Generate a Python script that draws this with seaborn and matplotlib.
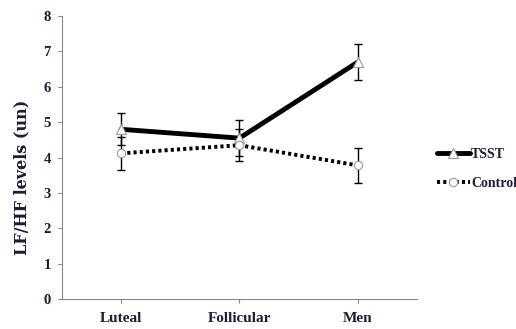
import matplotlib
matplotlib.use("Agg")
import matplotlib.pyplot as plt
import seaborn as sns
import pandas as pd

phases = ["Luteal", "Follicular", "Men"]
tsst_mean = [4.8, 4.55, 6.7]
tsst_err = [0.45, 0.5, 0.5]
control_mean = [4.12, 4.35, 3.78]
control_err = [0.47, 0.45, 0.5]
y_ticks = [0, 1, 2, 3, 4, 5, 6, 7, 8]

sns.set_theme(style="white")
plt.rcParams["font.family"] = ["Liberation Serif", "DejaVu Serif"]
text_color = "#1c1c3a"

df = pd.DataFrame({
    "phase": phases * 2,
    "value": tsst_mean + control_mean,
    "group": ["TSST"] * 3 + ["Control"] * 3,
})

fig = plt.figure(figsize=(5.16, 3.29), dpi=100)
ax = fig.add_axes([0.120, 0.091, 0.688, 0.860])

# error bars first so the lines sit on top
ax.errorbar(phases, tsst_mean, yerr=tsst_err, fmt="none", ecolor="black",
            elinewidth=1.0, capsize=3, capthick=1.0, zorder=2)
ax.errorbar(phases, control_mean, yerr=control_err, fmt="none", ecolor="black",
            elinewidth=1.0, capsize=3, capthick=1.0, zorder=2)

sns.lineplot(data=df[df.group == "TSST"], x="phase", y="value", ax=ax,
             color="black", linewidth=3.5, marker="^", markersize=7,
             markerfacecolor="white", markeredgecolor="#999999",
             markeredgewidth=0.8, label="TSST", zorder=3, sort=False)
sns.lineplot(data=df[df.group == "Control"], x="phase", y="value", ax=ax,
             color="black", linewidth=2.8, linestyle=(0, (0.8, 0.8)),
             marker="o", markersize=6, markerfacecolor="white",
             markeredgecolor="#999999", markeredgewidth=0.8,
             label="Control", zorder=3, sort=False)

ax.set_xlim(-0.5, 2.5)
ax.set_ylim(0, 8)
ax.set_yticks(y_ticks)
ax.set_yticklabels([str(t) for t in y_ticks], fontsize=10.5, fontweight="bold",
                   color=text_color)
ax.set_xticks(range(len(phases)))
ax.set_xticklabels(phases, fontsize=11, fontweight="bold", color=text_color)
ax.tick_params(axis="both", which="both", direction="out", length=3,
               width=0.8, color="#888888", bottom=True, left=True)
ax.tick_params(axis="x", pad=6)
ax.tick_params(axis="y", pad=5)

ax.set_xlabel("")
ax.set_ylabel("LF/HF levels (un)", fontsize=11.5, fontweight="bold",
              color=text_color, family=["DejaVu Serif"])
ax.yaxis.set_label_coords(-0.09, 0.43)

for side in ["top", "right"]:
    ax.spines[side].set_visible(False)
for side in ["left", "bottom"]:
    ax.spines[side].set_color("#888888")
    ax.spines[side].set_linewidth(0.8)

leg = ax.legend(loc="center left", bbox_to_anchor=(1.02, 0.46), frameon=False,
                handlelength=2.4, handletextpad=0.1, labelspacing=1.2,
                numpoints=1, prop={"size": 10, "weight": "bold"})
for t in leg.get_texts():
    t.set_color(text_color)

fig.savefig("out.png", dpi=100)
